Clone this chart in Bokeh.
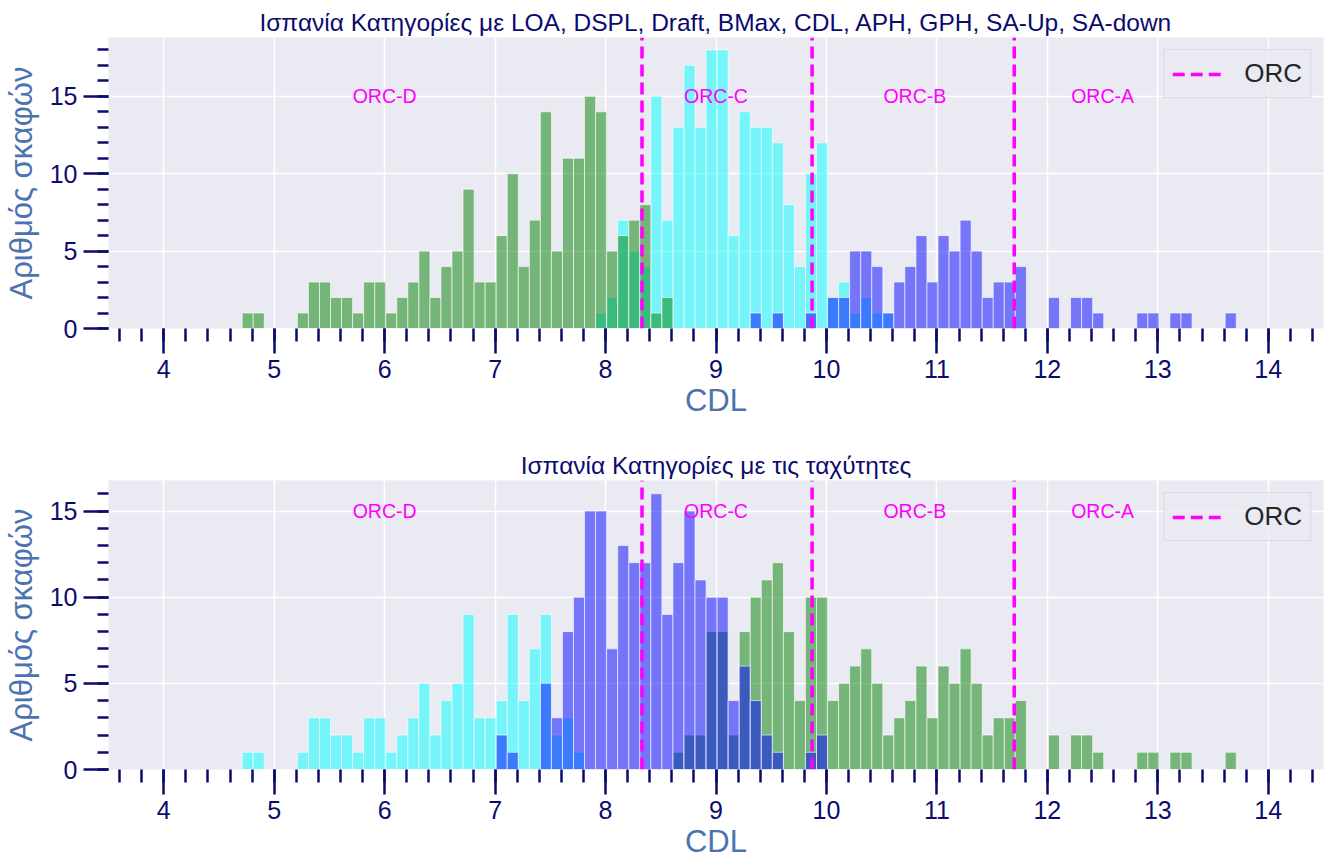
from bokeh.plotting import figure
from bokeh.models import FixedTicker, Legend, LegendItem, ColumnDataSource
from bokeh.layouts import column
from bokeh.embed import file_html
from bokeh.resources import INLINE
from bokeh.core.properties import value

# ---------------- data ----------------
BIN_START = 4.71
BIN_WIDTH = 0.1

# Top panel (classification with LOA, DSPL, ...): counts per 0.1 bin
top_green = [1, 1, 0, 0, 0, 1, 3, 3, 2, 2,
             1, 3, 3, 1, 2, 3, 5, 2, 4, 5,
             9, 3, 3, 6, 10, 4, 7, 14, 5, 11,
             11, 15, 14, 5, 6, 7, 8, 1, 2, 0,
             0, 0, 0, 0, 0, 0, 0, 0, 0, 0,
             0, 0, 0, 0, 0, 0, 0, 0, 0, 0,
             0, 0, 0, 0, 0, 0, 0, 0, 0, 0,
             0, 0, 0, 0, 0, 0, 0, 0, 0, 0,
             0, 0, 0, 0, 0, 0, 0, 0, 0, 0]
top_cyan = [0, 0, 0, 0, 0, 0, 0, 0, 0, 0,
            0, 0, 0, 0, 0, 0, 0, 0, 0, 0,
            0, 0, 0, 0, 0, 0, 0, 0, 0, 0,
            0, 0, 1, 2, 7, 5, 4, 15, 7, 13,
            17, 13, 18, 18, 6, 14, 13, 13, 12, 8,
            4, 10, 12, 2, 3, 1, 2, 1, 1, 0,
            0, 0, 0, 0, 0, 0, 0, 0, 0, 0,
            0, 0, 0, 0, 0, 0, 0, 0, 0, 0,
            0, 0, 0, 0, 0, 0, 0, 0, 0, 0]
top_blue = [0, 0, 0, 0, 0, 0, 0, 0, 0, 0,
            0, 0, 0, 0, 0, 0, 0, 0, 0, 0,
            0, 0, 0, 0, 0, 0, 0, 0, 0, 0,
            0, 0, 0, 0, 0, 0, 0, 0, 0, 0,
            0, 0, 0, 0, 0, 0, 1, 0, 1, 0,
            0, 1, 0, 2, 2, 5, 5, 4, 1, 3,
            4, 6, 3, 6, 5, 7, 5, 2, 3, 3,
            4, 0, 0, 2, 0, 2, 2, 1, 0, 0,
            0, 1, 1, 0, 1, 1, 0, 0, 0, 1]

# Bottom panel (classification with speeds)
bot_cyan = [1, 1, 0, 0, 0, 1, 3, 3, 2, 2,
            1, 3, 3, 1, 2, 3, 5, 2, 4, 5,
            9, 3, 3, 4, 9, 4, 7, 9, 2, 3,
            1, 0, 0, 0, 0, 0, 0, 0, 0, 0,
            0, 0, 0, 0, 0, 0, 0, 0, 0, 0,
            0, 0, 0, 0, 0, 0, 0, 0, 0, 0,
            0, 0, 0, 0, 0, 0, 0, 0, 0, 0,
            0, 0, 0, 0, 0, 0, 0, 0, 0, 0,
            0, 0, 0, 0, 0, 0, 0, 0, 0, 0]
bot_blue = [0, 0, 0, 0, 0, 0, 0, 0, 0, 0,
            0, 0, 0, 0, 0, 0, 0, 0, 0, 0,
            0, 0, 0, 2, 1, 0, 0, 5, 3, 8,
            10, 15, 15, 7, 13, 12, 12, 16, 9, 12,
            15, 11, 10, 10, 4, 6, 4, 2, 1, 0,
            0, 1, 2, 0, 0, 0, 0, 0, 0, 0,
            0, 0, 0, 0, 0, 0, 0, 0, 0, 0,
            0, 0, 0, 0, 0, 0, 0, 0, 0, 0,
            0, 0, 0, 0, 0, 0, 0, 0, 0, 0]
bot_green = [0, 0, 0, 0, 0, 0, 0, 0, 0, 0,
             0, 0, 0, 0, 0, 0, 0, 0, 0, 0,
             0, 0, 0, 0, 0, 0, 0, 0, 0, 0,
             0, 0, 0, 0, 0, 0, 0, 0, 0, 1,
             2, 2, 8, 8, 2, 8, 10, 11, 12, 8,
             4, 10, 10, 4, 5, 6, 7, 5, 2, 3,
             4, 6, 3, 6, 5, 7, 5, 2, 3, 3,
             4, 0, 0, 2, 0, 2, 2, 1, 0, 0,
             0, 1, 1, 0, 1, 1, 0, 0, 0, 1]

ORC_LIMITS = [8.33, 9.87, 11.70]
ORC_NAMES = ["ORC-D", "ORC-C", "ORC-B", "ORC-A"]
ORC_LABEL_X = [6.0, 9.0, 10.8, 12.5]
ORC_LABEL_Y = [15, 15, 15, 15]

X_MAJOR = [4, 5, 6, 7, 8, 9, 10, 11, 12, 13, 14]
X_MINOR = [round(3.6 + 0.2 * i, 2) for i in range(55)]
Y_MAJOR = [0, 5, 10, 15]

TITLE_TOP = "Ισπανία Κατηγορίες με LOA, DSPL, Draft, BMax, CDL, APH, GPH, SA-Up, SA-down"
TITLE_BOT = "Ισπανία Κατηγορίες με τις ταχύτητες"

FONT = "Liberation Sans"
NAVY = "#0b0b6e"
LABEL_BLUE = "#4C72B0"
BG = "#EAEAF2"


def make_panel(title, series, ymax, height, btop, bbottom):
    p = figure(width=1331, height=height, x_range=(3.5, 14.5), y_range=(0, ymax),
               output_backend="svg", toolbar_location=None,
               min_border_left=108, min_border_right=8,
               min_border_top=btop, min_border_bottom=bbottom)
    p.background_fill_color = BG
    p.border_fill_color = "white"
    p.outline_line_color = None

    p.title.text = title
    p.title.align = "center"
    p.title.text_font = FONT
    p.title.text_font_size = "24.5px"
    p.title.text_font_style = "normal"
    p.title.text_color = NAVY
    p.title.standoff = 4

    # bars
    n = len(series[0][0])
    left = [BIN_START + BIN_WIDTH * i for i in range(n)]
    right = [l + BIN_WIDTH for l in left]
    for counts, color in series:
        src = ColumnDataSource(dict(left=left, right=right, top=counts,
                                    bottom=[0] * n))
        p.quad(left="left", right="right", top="top", bottom="bottom", source=src,
               fill_color=color, fill_alpha=0.5,
               line_color="white", line_alpha=0.6, line_width=1)

    # ORC threshold lines
    r = p.segment(x0=ORC_LIMITS, y0=[0] * len(ORC_LIMITS),
                  x1=ORC_LIMITS, y1=[ymax] * len(ORC_LIMITS),
                  line_color="magenta", line_width=3.5, line_dash="12 6")

    p.text(x=ORC_LABEL_X, y=ORC_LABEL_Y, text=ORC_NAMES,
           text_align="center", text_baseline="alphabetic",
           text_color="magenta", text_font=value(FONT), text_font_size="19.5px")

    legend = Legend(items=[LegendItem(label="ORC", renderers=[r])],
                    location="top_right")
    legend.label_text_font = FONT
    legend.label_text_font_size = "26px"
    legend.label_text_color = "#262626"
    legend.glyph_width = 52
    legend.glyph_height = 28
    legend.label_height = 28
    legend.label_standoff = 20
    legend.padding = 8
    legend.margin = 12
    legend.border_line_color = "#cccccc"
    legend.border_line_width = 1.5
    legend.background_fill_color = BG
    legend.background_fill_alpha = 0.8
    p.add_layout(legend)

    # axes
    p.xaxis.ticker = FixedTicker(ticks=X_MAJOR, minor_ticks=X_MINOR)
    y_minor = list(range(0, int(ymax) + 1))
    p.yaxis.ticker = FixedTicker(ticks=Y_MAJOR, minor_ticks=y_minor)
    p.xgrid.ticker = FixedTicker(ticks=X_MAJOR)
    p.ygrid.ticker = FixedTicker(ticks=Y_MAJOR)
    p.grid.grid_line_color = "white"
    p.grid.grid_line_width = 1.5

    for ax in (p.xaxis, p.yaxis):
        ax.axis_line_color = None
        ax.major_tick_in = 0
        ax.minor_tick_in = 0
        ax.major_tick_out = 25
        ax.major_tick_line_color = NAVY
        ax.minor_tick_line_color = NAVY
        ax.major_tick_line_width = 2.5
        ax.minor_tick_line_width = 2.5
        ax.major_label_text_font = FONT
        ax.major_label_text_font_size = "25px"
        ax.major_label_text_color = NAVY
        ax.axis_label_text_font = FONT
        ax.axis_label_text_font_size = "31px"
        ax.axis_label_text_font_style = "normal"
        ax.axis_label_text_color = LABEL_BLUE
    p.xaxis.minor_tick_out = 13
    p.yaxis.minor_tick_out = 11
    p.xaxis.major_label_standoff = 6
    p.yaxis.major_label_standoff = 6
    p.xaxis.axis_label = "CDL"
    p.yaxis.axis_label = "Αριθμός σκαφών"
    p.xaxis.axis_label_standoff = 2
    p.yaxis.axis_label_standoff = 8
    return p


p1 = make_panel(TITLE_TOP,
                [(top_cyan, "cyan"), (top_green, "green"), (top_blue, "blue")],
                18.8, 440, 37, 112)
p2 = make_panel(TITLE_BOT,
                [(bot_cyan, "cyan"), (bot_green, "green"), (bot_blue, "blue")],
                16.77, 421, 40, 90)

layout = column(p1, p2, spacing=0)
open("out.html", "w").write(file_html(layout, INLINE))
